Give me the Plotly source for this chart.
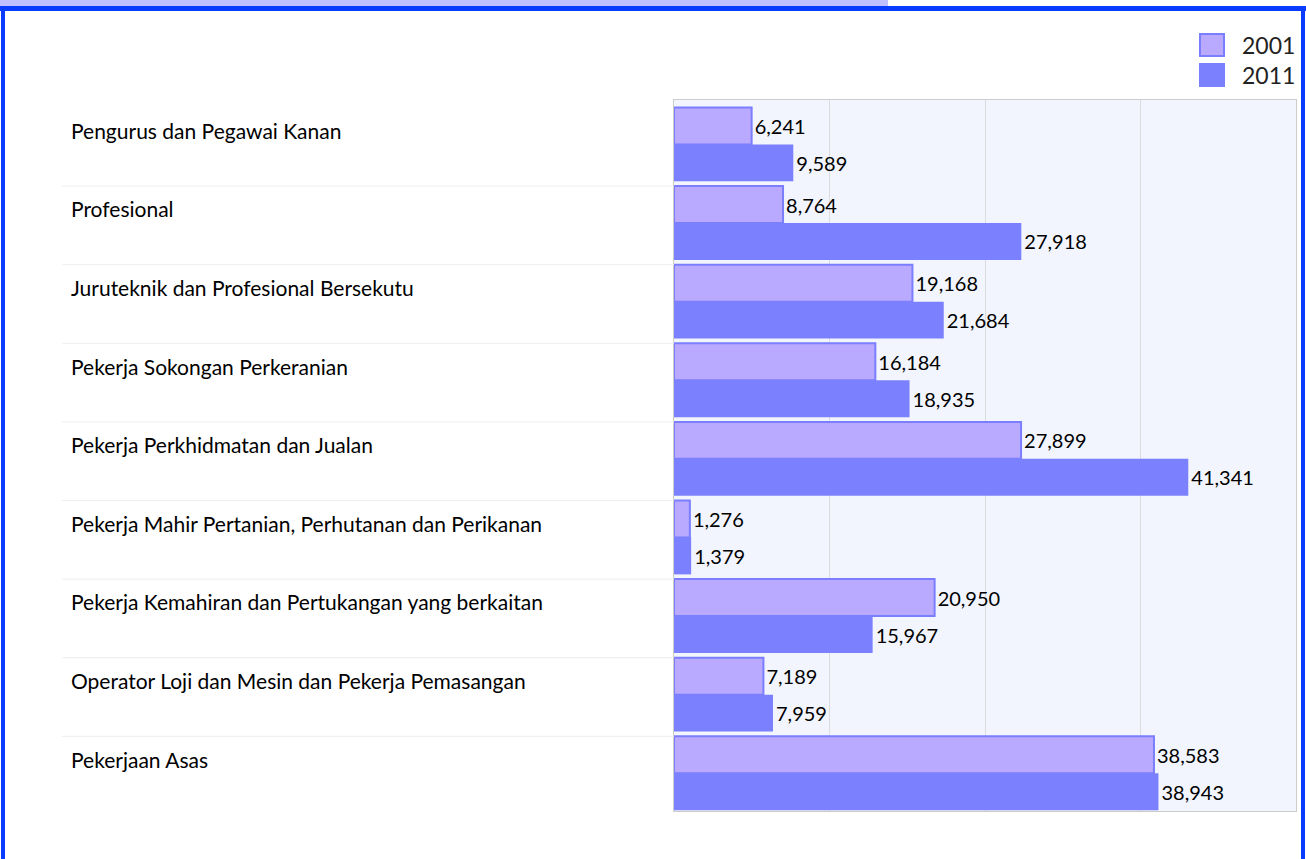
import plotly.graph_objects as go

categories = [
    "Pengurus dan Pegawai Kanan",
    "Profesional",
    "Juruteknik dan Profesional Bersekutu",
    "Pekerja Sokongan Perkeranian",
    "Pekerja Perkhidmatan dan Jualan",
    "Pekerja Mahir Pertanian, Perhutanan dan Perikanan",
    "Pekerja Kemahiran dan Pertukangan yang berkaitan",
    "Operator Loji dan Mesin dan Pekerja Pemasangan",
    "Pekerjaan Asas",
]
values_2001 = [6241, 8764, 19168, 16184, 27899, 1276, 20950, 7189, 38583]
values_2011 = [9589, 27918, 21684, 18935, 41341, 1379, 15967, 7959, 38943]
series_names = ["2001", "2011"]

W, H = 1306, 859
L, R, T, B = 674, 1296, 100, 811
FONT = "Lato, 'Open Sans', sans-serif"
C2001 = "#b9a9ff"
C2001_LINE = "#7b7fff"
C2011 = "#7b80ff"

def xp(px):
    return (px - L) / (R - L)

def yp(py):
    return (B - py) / (B - T)

fig = go.Figure()
fig.add_trace(go.Bar(
    y=categories, x=values_2001, orientation="h", name=series_names[0],
    marker=dict(color=C2001, line=dict(color=C2001_LINE, width=2)),
    text=[f"{v:,}" for v in values_2001], textposition="outside",
    textfont=dict(family=FONT, size=20, color="#000000"),
    cliponaxis=False, constraintext="none",
))
fig.add_trace(go.Bar(
    y=categories, x=values_2011, orientation="h", name=series_names[1],
    marker=dict(color=C2011, line=dict(width=0)),
    text=[f"{v:,}" for v in values_2011], textposition="outside",
    textfont=dict(family=FONT, size=20, color="#000000"),
    cliponaxis=False, constraintext="none",
))

shapes = []
annotations = []

# category labels and separators
for i, c in enumerate(categories):
    annotations.append(dict(
        xref="paper", yref="y", x=xp(69), y=i - 0.18, text=c,
        xanchor="left", yanchor="middle", showarrow=False,
        font=dict(family=FONT, size=21, color="#000000"),
    ))
    if i > 0:
        shapes.append(dict(
            type="line", xref="paper", yref="y", x0=xp(62), x1=0,
            y0=i - 0.47, y1=i - 0.47, line=dict(color="#eeeeee", width=1),
        ))

# manual legend
for k, (name, col, lc) in enumerate([(series_names[0], C2001, C2001_LINE), (series_names[1], C2011, C2011)]):
    cy = 45 + 30 * k
    shapes.append(dict(
        type="rect", xref="paper", yref="paper",
        x0=xp(1200), x1=xp(1224), y0=yp(cy - 11), y1=yp(cy + 11),
        fillcolor=col, line=dict(color=lc, width=2),
    ))
    annotations.append(dict(
        xref="paper", yref="paper", x=xp(1240), y=yp(cy), text=name,
        xanchor="left", yanchor="middle", showarrow=False,
        font=dict(family=FONT, size=23, color="#222222"),
    ))

# page decoration: top strip and blue frame
shapes.append(dict(type="rect", xref="paper", yref="paper", x0=xp(0), x1=xp(888),
                   y0=yp(0), y1=yp(6), fillcolor="#c0c0ff", line=dict(width=0), layer="below"))
shapes.append(dict(type="rect", xref="paper", yref="paper", x0=xp(0), x1=xp(1306),
                   y0=yp(6), y1=yp(11), fillcolor="#0a3cff", line=dict(width=0)))
shapes.append(dict(type="rect", xref="paper", yref="paper", x0=xp(1), x1=xp(5),
                   y0=yp(6), y1=yp(870), fillcolor="#0a3cff", line=dict(width=0)))
shapes.append(dict(type="rect", xref="paper", yref="paper", x0=xp(1301), x1=xp(1305),
                   y0=yp(6), y1=yp(870), fillcolor="#0a3cff", line=dict(width=0)))

fig.update_layout(
    width=W, height=H,
    margin=dict(l=L, r=W - R, t=T, b=H - B, pad=0),
    paper_bgcolor="#ffffff", plot_bgcolor="#f2f5fd",
    barmode="group", bargap=0.06, bargroupgap=0,
    showlegend=False,
    shapes=shapes, annotations=annotations,
    font=dict(family=FONT),
    xaxis=dict(range=[0, 50000], tickvals=[12500, 25000, 37500], showticklabels=False,
               showgrid=True, gridcolor="#dcdcdc", gridwidth=1, zeroline=False,
               showline=True, linecolor="#cccccc", linewidth=1, mirror=True, ticks=""),
    yaxis=dict(range=[8.48, -0.565], showticklabels=False, showgrid=False, zeroline=False,
               showline=True, linecolor="#cccccc", linewidth=1, mirror=True, ticks=""),
)

fig.write_html(
    "out.html",
    config={"displayModeBar": False},
    post_script="document.body.style.margin='0';document.body.style.overflow='hidden';",
)
